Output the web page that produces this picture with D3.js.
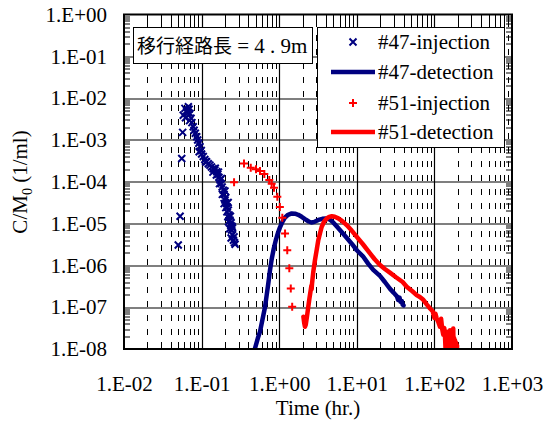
<!DOCTYPE html>
<html>
<head>
<meta charset="utf-8">
<script src="https://cdn.jsdelivr.net/npm/d3@7"></script>
<style>
body { margin: 0; background: #fff; }
svg { display: block; }
svg text { font-family: 'Liberation Serif', 'DejaVu Serif', serif; }
</style>
</head>
<body>
<div id="chart"></div>
<script>
'use strict';

// ---- data ----
var xTicks = [1e-2, 1e-1, 1e0, 1e1, 1e2, 1e3];
var xTickLabels = ['1.E-02', '1.E-01', '1.E+00', '1.E+01', '1.E+02', '1.E+03'];
var yTicks = [1e0, 1e-1, 1e-2, 1e-3, 1e-4, 1e-5, 1e-6, 1e-7, 1e-8];
var yTickLabels = ['1.E+00', '1.E-01', '1.E-02', '1.E-03', '1.E-04', '1.E-05', '1.E-06', '1.E-07', '1.E-08'];

var seriesNames = ['#47-injection', '#47-detection', '#51-injection', '#51-detection'];
var seriesColors = ['#000080', '#000080', '#ff0000', '#ff0000'];
var noteText = ['移行経路長', ' = 4 . 9m'];

// #47 injection  [time hr, C/M0]
var inj47 = [
    [0.057,1.52e-3],[0.0555,3.6e-4],[0.0528,1.5e-5],[0.050,3.06e-6],
    [0.058,3.9e-3],[0.061,5.7e-3],[0.064,5.0e-3],[0.0675,6.2e-3],[0.066,4.4e-3],[0.071,4.3e-3],
    [0.069,5.4e-3],[0.062,3.4e-3],[0.073,3.3e-3],[0.075,2.6e-3],[0.070,2.9e-3],[0.078,2.07e-3],
    [0.080,1.7e-3],[0.083,1.45e-3],[0.0865,1.19e-3],[0.089,1.0e-3],[0.092,8.3e-4],[0.0953,6.9e-4],
    [0.099,5.6e-4],[0.105,4.0e-4],[0.110,3.4e-4],[0.116,3.0e-4],[0.122,2.7e-4],[0.128,2.5e-4],
    [0.134,2.25e-4],[0.141,2.05e-4],[0.148,1.9e-4],[0.157,1.73e-4],[0.162,1.5e-4],[0.167,1.28e-4],
    [0.173,1.1e-4],[0.178,9.0e-5],[0.184,7.5e-5],[0.19,6.3e-5],[0.195,5.0e-5],[0.2,3.65e-5],
    [0.205,4.2e-5],[0.21,3.0e-5],[0.215,2.5e-5],[0.221,2.1e-5],[0.212,1.9e-5],[0.226,1.6e-5],
    [0.232,1.21e-5],[0.222,1.1e-5],[0.238,9.0e-6],[0.244,7e-6],[0.23,7.5e-6],[0.25,5.4e-6],
    [0.257,4e-6],[0.24,4.5e-6],[0.265,3.5e-6],[0.27,3.2e-6],[0.262,4.8e-6],[0.248,8.5e-6],
    [0.15,2.1e-4],[0.165,1.7e-4],[0.18,1.2e-4],[0.155,1.45e-4],[0.17,9e-5],[0.2,6e-5],
    [0.185,5e-5],[0.195,3e-5],[0.22,3.2e-5],[0.205,2.4e-5],[0.235,1.5e-5],[0.24,1.05e-5],
    [0.218,1.45e-5],[0.25,7.8e-6],[0.093,5.2e-4],[0.1,4.6e-4],[0.113,3.0e-4],[0.14,1.7e-4]
];

// #47 detection
var det47 = [
    [0.485,1.0e-8],[0.53,1.8e-8],[0.566,2.6e-8],[0.62,6e-8],[0.656,1.0e-7],[0.69,1.95e-7],
    [0.724,3.7e-7],[0.76,7.5e-7],[0.8,1.4e-6],[0.85,2.5e-6],[0.91,4.2e-6],[0.97,6.2e-6],
    [1.02,8e-6],[1.1,1.1e-5],[1.19,1.4e-5],[1.3,1.62e-5],[1.45,1.75e-5],[1.6,1.72e-5],
    [1.76,1.62e-5],[1.95,1.45e-5],[2.15,1.28e-5],[2.4,1.12e-5],[2.6,1.06e-5],[2.85,1.1e-5],
    [3.2,1.22e-5],[3.6,1.3e-5],[4.0,1.33e-5],[4.5,1.25e-5],[5.0,1.05e-5],[5.5,8.6e-6],
    [6.3,6.5e-6],[7.4,4.6e-6],[8.6,3.3e-6],[10,2.3e-6],[12,1.65e-6],[14,1.1e-6],
    [16.3,7.8e-7],[19.9,5.6e-7],[23,4e-7],[27,2.7e-7],[30,2.2e-7],[33,1.8e-7],
    [34,1.5e-7],[35.5,1.7e-7],[36.5,1.35e-7],[38,1.4e-7],[39,1.15e-7],[40,1.1e-7]
];

// #51 injection
var inj51 = [
    [0.262,9.7e-5],[0.352,2.75e-4],[0.43,2.16e-4],[0.502,1.98e-4],[0.566,1.8e-4],[0.643,1.53e-4],
    [0.745,1.1e-4],[0.80,9.0e-5],[0.857,7.2e-5],[0.946,4.4e-5],[1.02,2.5e-5],[1.097,1.38e-5],
    [1.19,5.8e-6],[1.27,2.3e-6],[1.35,8.5e-7],[1.41,2.8e-7],[1.47,1.02e-7]
];

// #51 detection
var det51 = [
    [2.05,5.9e-8],[2.1,4.2e-8],[2.15,3.4e-8],[2.2,3.8e-8],[2.28,6e-8],[2.37,1.02e-7],
    [2.45,1.6e-7],[2.55,2.6e-7],[2.6,3.3e-7],[2.62,2.7e-7],[2.65,3.7e-7],[2.75,7e-7],
    [2.89,1.34e-6],[3.05,2.4e-6],[3.19,4e-6],[3.35,5.8e-6],[3.53,8.4e-6],[3.8,1.12e-5],
    [4.1,1.33e-5],[4.4,1.45e-5],[4.75,1.5e-5],[5.2,1.45e-5],[5.78,1.33e-5],[6.5,1.14e-5],
    [7.4,9.2e-6],[8.6,6.8e-6],[10,4.8e-6],[12,3.2e-6],[14.8,1.94e-6],[17,1.4e-6],
    [19.9,1.02e-6],[23,8.2e-7],[27,6.6e-7],[32,5.2e-7],[39,4e-7],[44,3.1e-7],
    [52,2.4e-7],[59,1.95e-7],[65,1.75e-7],[72,1.5e-7],[80,1.15e-7],[88,9.3e-8],
    [95,8.0e-8],[100,5.5e-8],[103,7e-8],[107,5.4e-8],[112,4.5e-8],[118,3.4e-8],
    [122,5.3e-8],[126,3e-8],[130,2.2e-8],[134,3.2e-8],[137,1.96e-8],[140,8e-9],
    [142,2.5e-8],[144,7e-9],[146,2.6e-8],[148,6e-9],[150,2.4e-8],[152,6e-9],
    [155,2.2e-8],[157,6e-9],[159,2.8e-8],[161,6e-9],[163,2.2e-8],[165,6e-9],
    [168,2.3e-8],[170,6e-9],[172,2.0e-8],[174,6e-9],[175,3.1e-8],[177,6e-9],
    [180,1.8e-8],[182,6e-9],[185,1.6e-8],[188,6e-9],[191,1.4e-8],[193,6e-9],[196,1.2e-8]
];

function breakthroughChart()
{
    var scope = this;
    var exports = {};

    scope.margins = {top: 14.5, right: 31, bottom: 74, left: 124};
    scope.cw = 388;
    scope.ch = 334.5;
    scope.font = 'Liberation Serif, DejaVu Serif, serif';

    scope.appendSvg = function(div)
    {
        return d3.select(div).append('svg')
            .attr('width', 543)
            .attr('height', 423);
    }

    scope.appendChartGroup = function(svg)
    {
        var chart = svg.append('g')
            .attr('transform', 'translate(' + scope.margins.left + ',' + scope.margins.top + ')');

        chart.append('clipPath').attr('id', 'plotClip')
            .append('rect')
            .attr('width', scope.cw)
            .attr('height', scope.ch);

        return chart;
    }

    scope.createScales = function()
    {
        scope.xScale = d3.scaleLog().domain([1e-2, 1e3]).range([0, scope.cw]);
        scope.yScale = d3.scaleLog().domain([1e-8, 1e0]).range([scope.ch, 0]);
    }

    scope.minorValues = function(lo, hi)
    {
        var vals = [];
        for (var e = lo; e < hi; e++)
            for (var k = 2; k <= 9; k++)
                vals.push(k * Math.pow(10, e));
        return vals;
    }

    scope.appendGrid = function(cht)
    {
        var xMinor = scope.minorValues(-2, 3);
        var yMinor = scope.minorValues(-8, 0);

        // dashed minor verticals
        cht.append('g').selectAll('line')
            .data(xMinor).enter().append('line')
            .attr('x1', function(d) { return Math.round(scope.xScale(d)) + 0.5; })
            .attr('x2', function(d) { return Math.round(scope.xScale(d)) + 0.5; })
            .attr('y1', scope.ch)
            .attr('y2', 0)
            .attr('stroke', '#000')
            .attr('stroke-width', 1)
            .attr('stroke-dasharray', '6,8');

        // major grid
        cht.append('g').selectAll('line')
            .data(xTicks.slice(1, -1)).enter().append('line')
            .attr('x1', function(d) { return Math.round(scope.xScale(d)) + 0.5; })
            .attr('x2', function(d) { return Math.round(scope.xScale(d)) + 0.5; })
            .attr('y1', 0)
            .attr('y2', scope.ch)
            .attr('stroke', '#000')
            .attr('stroke-width', 1.2);

        cht.append('g').selectAll('line')
            .data(yTicks.slice(1, -1)).enter().append('line')
            .attr('x1', 0)
            .attr('x2', scope.cw)
            .attr('y1', function(d) { return Math.round(scope.yScale(d)) + 0.5; })
            .attr('y2', function(d) { return Math.round(scope.yScale(d)) + 0.5; })
            .attr('stroke', '#000')
            .attr('stroke-width', 1.2);

        // inside minor ticks on all four sides
        var tk = cht.append('g').attr('stroke', '#000').attr('stroke-width', 1);
        tk.selectAll('.tl').data(yMinor).enter().append('line')
            .attr('x1', 0).attr('x2', 6)
            .attr('y1', function(d) { return Math.round(scope.yScale(d)) + 0.5; })
            .attr('y2', function(d) { return Math.round(scope.yScale(d)) + 0.5; });
        tk.selectAll('.tr').data(yMinor).enter().append('line')
            .attr('x1', scope.cw).attr('x2', scope.cw - 6)
            .attr('y1', function(d) { return Math.round(scope.yScale(d)) + 0.5; })
            .attr('y2', function(d) { return Math.round(scope.yScale(d)) + 0.5; });
        tk.selectAll('.tt').data(xMinor).enter().append('line')
            .attr('y1', 0).attr('y2', 7)
            .attr('x1', function(d) { return Math.round(scope.xScale(d)) + 0.5; })
            .attr('x2', function(d) { return Math.round(scope.xScale(d)) + 0.5; });
        tk.selectAll('.tb').data(xMinor).enter().append('line')
            .attr('y1', scope.ch).attr('y2', scope.ch - 7)
            .attr('x1', function(d) { return Math.round(scope.xScale(d)) + 0.5; })
            .attr('x2', function(d) { return Math.round(scope.xScale(d)) + 0.5; });
    }

    scope.appendAxes = function(cht)
    {
        var xAxis = d3.axisBottom(scope.xScale)
            .tickValues(xTicks)
            .tickSize(0)
            .tickPadding(27)
            .tickFormat(function(d, i) { return xTickLabels[i]; });

        var yAxis = d3.axisLeft(scope.yScale)
            .tickValues(yTicks)
            .tickSize(0)
            .tickPadding(17)
            .tickFormat(function(d, i) { return yTickLabels[i]; });

        var gx = cht.append('g')
            .attr('transform', 'translate(0,' + scope.ch + ')')
            .call(xAxis);
        var gy = cht.append('g').call(yAxis);

        [gx, gy].forEach(function(g) {
            g.attr('font-family', scope.font).attr('font-size', 21);
            g.select('.domain').remove();
            g.selectAll('text').attr('fill', '#000');
        });
    }

    scope.appendSeries = function(cht)
    {
        var plot = cht.append('g').attr('clip-path', 'url(#plotClip)');

        var line = d3.line()
            .x(function(d) { return scope.xScale(d[0]); })
            .y(function(d) { return scope.yScale(d[1]); });

        plot.append('path')
            .datum(det47)
            .attr('d', line)
            .attr('fill', 'none')
            .attr('stroke', seriesColors[1])
            .attr('stroke-width', 4.5)
            .attr('stroke-linejoin', 'round')
            .attr('stroke-linecap', 'round');

        plot.append('path')
            .datum(det51)
            .attr('d', line)
            .attr('fill', 'none')
            .attr('stroke', seriesColors[3])
            .attr('stroke-width', 4.5)
            .attr('stroke-linejoin', 'round')
            .attr('stroke-linecap', 'round');

        plot.append('g').selectAll('path')
            .data(inj47).enter().append('path')
            .attr('d', 'M-3.5,-3.5L3.5,3.5M-3.5,3.5L3.5,-3.5')
            .attr('transform', function(d) { return 'translate(' + scope.xScale(d[0]) + ',' + scope.yScale(d[1]) + ')'; })
            .attr('stroke', seriesColors[0])
            .attr('stroke-width', 2);

        plot.append('g').selectAll('path')
            .data(inj51).enter().append('path')
            .attr('d', 'M-4,0L4,0M0,-4L0,4')
            .attr('transform', function(d) { return 'translate(' + scope.xScale(d[0]) + ',' + scope.yScale(d[1]) + ')'; })
            .attr('stroke', seriesColors[2])
            .attr('stroke-width', 2);
    }

    scope.appendFrame = function(cht)
    {
        cht.append('rect')
            .attr('width', scope.cw)
            .attr('height', scope.ch)
            .attr('fill', 'none')
            .attr('stroke', '#000')
            .attr('stroke-width', 2);
    }

    scope.appendNote = function(svg)
    {
        svg.append('rect')
            .attr('x', 133.5).attr('y', 27.5)
            .attr('width', 179).attr('height', 36)
            .attr('fill', '#fff')
            .attr('stroke', '#000');

        var t = svg.append('text')
            .attr('x', 137)
            .attr('y', 53)
            .attr('fill', '#000');
        t.append('tspan')
            .attr('font-family', 'Noto Sans CJK JP, sans-serif')
            .style('font-family', 'Noto Sans CJK JP, sans-serif')
            .attr('font-size', 19)
            .text(noteText[0]);
        t.append('tspan')
            .attr('font-size', 21)
            .attr('xml:space', 'preserve')
            .text(noteText[1]);
    }

    scope.appendLegend = function(svg)
    {
        svg.append('rect')
            .attr('x', 317.5).attr('y', 27.5)
            .attr('width', 187).attr('height', 120)
            .attr('fill', '#fff')
            .attr('stroke', '#000');

        var rows = [42, 72, 103, 132];
        var g = svg.append('g');

        seriesNames.forEach(function(name, i) {
            var y = rows[i];
            if (i === 0) {
                g.append('path')
                    .attr('d', 'M-3.5,-3.5L3.5,3.5M-3.5,3.5L3.5,-3.5')
                    .attr('transform', 'translate(353,' + y + ')')
                    .attr('stroke', seriesColors[i]).attr('stroke-width', 2);
            } else if (i === 2) {
                g.append('path')
                    .attr('d', 'M-4,0L4,0M0,-4L0,4')
                    .attr('transform', 'translate(353,' + y + ')')
                    .attr('stroke', seriesColors[i]).attr('stroke-width', 2);
            } else {
                g.append('line')
                    .attr('x1', 331).attr('x2', 375)
                    .attr('y1', y).attr('y2', y)
                    .attr('stroke', seriesColors[i])
                    .attr('stroke-width', 4.5);
            }
            g.append('text')
                .attr('x', 378)
                .attr('y', y + 7)
                .attr('font-size', 21)
                .attr('fill', '#000')
                .text(name);
        });
    }

    scope.createLabel = function(svg)
    {
        var ly = svg.append('text')
            .attr('transform', 'translate(27,182) rotate(-90)')
            .attr('text-anchor', 'middle')
            .attr('font-size', 21)
            .attr('fill', '#000');
        ly.append('tspan').text('C/M');
        ly.append('tspan').attr('dy', 5).attr('font-size', 14).text('0');
        ly.append('tspan').attr('dy', -5).text(' (1/ml)');

        svg.append('text')
            .attr('x', 318)
            .attr('y', 415)
            .attr('text-anchor', 'middle')
            .attr('font-size', 21)
            .attr('fill', '#000')
            .text('Time (hr.)');
    }

    exports.run = function(div)
    {
        var svg = scope.appendSvg(div);
        var cht = scope.appendChartGroup(svg);

        scope.createScales();
        scope.appendGrid(cht);
        scope.appendAxes(cht);
        scope.appendSeries(cht);
        scope.appendFrame(cht);
        scope.appendNote(svg);
        scope.appendLegend(svg);
        scope.createLabel(svg);
    }

    return exports;
}

new breakthroughChart().run('#chart');
</script>
</body>
</html>
